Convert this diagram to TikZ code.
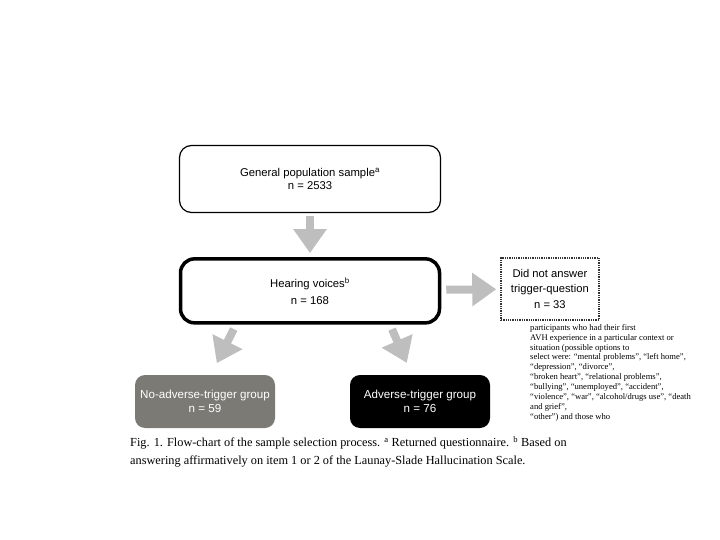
\documentclass[tikz,border=0pt]{standalone}
\usepackage{fontspec}
\setmainfont{Liberation Sans}
\newfontfamily\capfont{Liberation Serif}
\usepackage{xcolor}
\usetikzlibrary{arrows.meta, positioning}
\definecolor{ArrGray}{RGB}{190,190,190}
\definecolor{BoxGray}{RGB}{124,122,117}

\begin{document}
\begin{tikzpicture}[x=1pt, y=-1pt,
    node distance=44pt and 59pt,
    box/.style={rectangle, draw=black, line width=1.2pt, rounded corners=12pt,
                minimum width=261pt, minimum height=67pt, align=center,
                font=\fontsize{11.3}{13.5}\selectfont},
    thickbox/.style={box, line width=3.5pt, rounded corners=14pt,
                minimum width=259pt, minimum height=64pt,
                font=\fontsize{11.3}{17}\selectfont},
    dotbox/.style={rectangle, draw=black!80, densely dotted, line width=1.3pt,
                minimum width=98pt, minimum height=62pt, inner sep=1pt, align=center,
                font=\fontsize{11.2}{15.5}\selectfont},
    groupbox/.style={rectangle, rounded corners=10pt, minimum width=140pt,
                minimum height=53pt, align=center, text=white,
                font=\fontsize{11.6}{13.5}\selectfont},
    bigarr/.style={-{Triangle[width=32pt, length=24pt]}, line width=8pt, draw=ArrGray}
]
\useasboundingbox (0,0) rectangle (720,540);

\node[box] (gen) at (310,179) {General population sample\textsuperscript{a}\\ n = 2533};
\node[thickbox, below=of gen] (voices) {Hearing voices\textsuperscript{b}\\ n = 168};
\node[dotbox, right=of voices, yshift=2pt] (dna) {Did not answer\\ trigger-question\\ n = 33};
\node[groupbox, fill=BoxGray] (noadv) at (205,401.5) {No-adverse-trigger group\\ n = 59};
\node[groupbox, fill=black] (adv) at (420,401.5) {Adverse-trigger group\\ n = 76};

% side note
\node[anchor=north west, inner sep=0pt, align=left,
      font=\capfont\fontsize{8.6}{9.9}\selectfont] (note) at (530,324)
  {participants who had their first\\
   AVH experience in a particular context or\\
   situation (possible options to\\
   select were: “mental problems”, “left home”,\\
   “depression”, “divorce”,\\
   “broken heart”, “relational problems”,\\
   “bullying”, “unemployed”, “accident”,\\
   “violence”, “war”, “alcohol/drugs use”, “death\\
   and grief”,\\
   “other”) and those who};

% caption
\node[anchor=north west, inner sep=0pt, align=left,
      font=\capfont\fontsize{12.3}{18}\selectfont] (cap) at (130,436)
  {Fig. 1. Flow-chart of the sample selection process. \textsuperscript{a} Returned questionnaire. \textsuperscript{b} Based on\\
   answering affirmatively on item 1 or 2 of the Launay-Slade Hallucination Scale.};

\draw[bigarr, shorten <=3pt, shorten >=4pt] (gen) -- (voices);
\draw[bigarr, shorten <=5pt, shorten >=4pt] (voices) -- (dna);
\draw[bigarr, shorten <=5pt, shorten >=13pt] ([xshift=-74pt]voices.south) -- ([xshift=6pt]noadv.north);
\draw[bigarr, shorten <=5pt, shorten >=13pt] ([xshift=80pt]voices.south) -- ([xshift=-8pt]adv.north);
\end{tikzpicture}
\end{document}
